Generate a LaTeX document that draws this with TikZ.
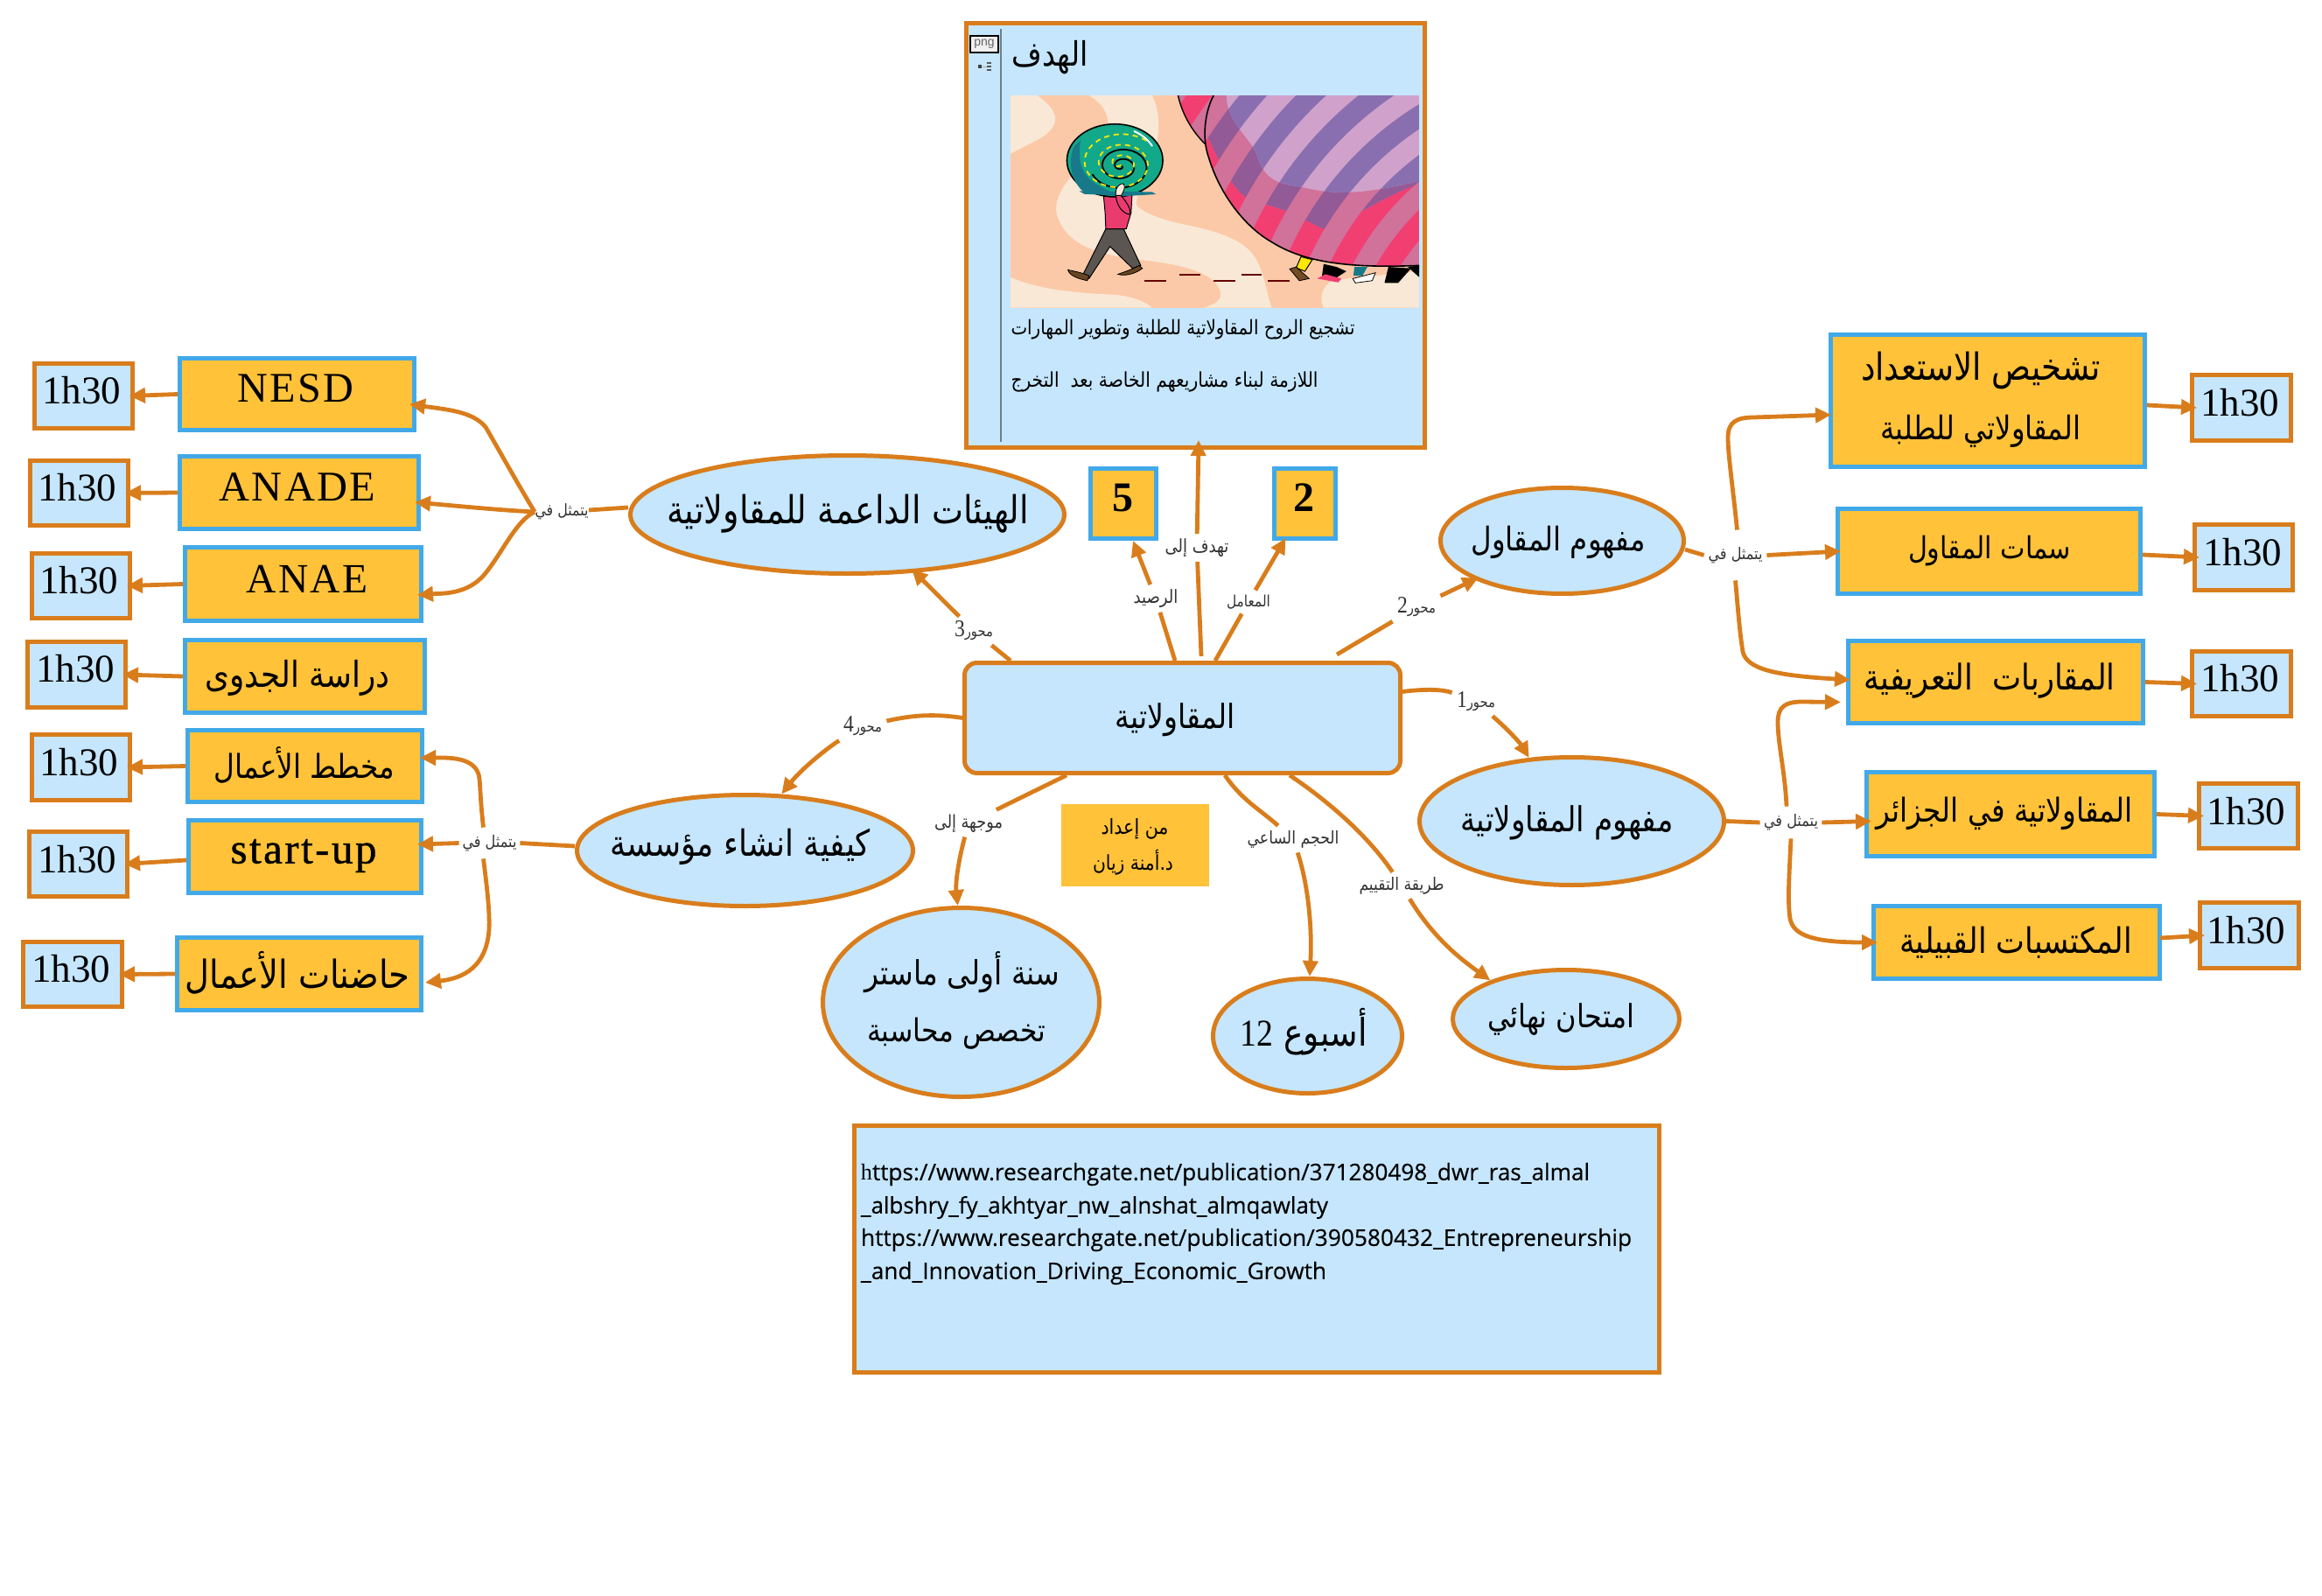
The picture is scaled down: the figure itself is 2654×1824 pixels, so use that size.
\documentclass[tikz,border=0pt]{standalone}
\usepackage{fontspec}
\usepackage{graphicx}
\usetikzlibrary{shapes.geometric,arrows.meta,calc}
\TeXXeTstate=1
\setmainfont{Liberation Serif}
\newfontfamily\arabicfont[Script=Arabic]{DejaVu Sans}
\newfontfamily\lat{Liberation Serif}
\newfontfamily\latwide[LetterSpace=5]{Liberation Serif}
\newfontfamily\latheavy[LetterSpace=5,FakeBold=0.8]{Liberation Serif}
\newfontfamily\refsans[FakeBold=0.3]{Open Sans}
\newfontfamily\badgesans{Liberation Sans}
\definecolor{linkorange}{HTML}{D97D1C}
\definecolor{paleblue}{HTML}{C5E6FC}
\definecolor{boxyellow}{HTML}{FFC238}
\definecolor{boxblue}{HTML}{42A9E8}
\definecolor{tagtext}{HTML}{333333}
\definecolor{peach}{HTML}{FCC9A8}
\definecolor{cream}{HTML}{F9E8D6}
\definecolor{shell}{HTML}{12A88A}
\definecolor{shelldark}{HTML}{17798A}
\definecolor{shirt}{HTML}{E93B6E}
\definecolor{trousers}{HTML}{5B5652}
\definecolor{purpA}{HTML}{8A6FB0}
\definecolor{purpB}{HTML}{D0A2CB}
\definecolor{mauA}{HTML}{925A96}
\definecolor{mauB}{HTML}{D0729A}
\definecolor{hotpink}{HTML}{F23F72}
\newlength\arw
\newsavebox\tbox
% Arabic line scaled to a width given in picture units, slightly heightened
\newcommand{\ar}[2]{\setlength\arw{#1pt}\arw=0.5\arw\scalebox{1}[1.15]{\resizebox{\arw}{!}{\arabicfont #2}}}
% Latin run scaled to a width given in picture units
\newcommand{\la}[2]{\setlength\arw{#1pt}\arw=0.5\arw\resizebox{\arw}{!}{#2}}
% Digit inside a caption
\newcommand{\dgt}[1]{{\lat\Large #1}}
% Text centred on an absolute picture position, inside a box drawn by \spanbox
\newcommand{\txt}[3]{\pgfmathsetlengthmacro\dxx{(#1-\bx)*1pt}\pgfmathsetlengthmacro\dyy{(\by-#2)*0.5pt}%
  \sbox\tbox{#3}\makebox[0pt]{\kern\dxx\raisebox{\dimexpr\dyy-0.5\ht\tbox+0.5\dp\tbox\relax}[0pt][0pt]{\usebox\tbox}}}
% Node spanning given outer extents: name, style, x1, y1, x2, y2, content
\newcommand{\spanbox}[7]{\pgfmathsetmacro\bx{(#3+#5)/2}\pgfmathsetmacro\by{(#4+#6)/2}%
  \pgfmathsetmacro\bw{(#5-#3-5)*0.5}\pgfmathsetmacro\bh{(#6-#4-5)*0.5}%
  \node[#2,minimum width=\bw pt,minimum height=\bh pt] (#1) at (\bx,\by) {#7};}
% Concentric bands of the balloon
\newcommand{\stripes}[2]{\fill[#1] (700,250) rectangle (1500,950);
  \foreach \r in {224,272,320,368,416,464,512,560,608}{\draw[#2,line width=12pt] (2000,1300) circle [radius=\r*0.5pt];}}
\tikzset{
  solid base/.style={inner sep=0pt,line width=2.5pt,text height=0pt,text depth=0pt},
  topicbox/.style={solid base,rectangle,draw=boxblue,fill=boxyellow},
  hourbox/.style={solid base,rectangle,draw=linkorange,fill=paleblue},
  infobox/.style={solid base,rectangle,draw=linkorange,fill=paleblue},
  oval/.style={solid base,ellipse,draw=linkorange,fill=paleblue},
  creditbox/.style={solid base,rectangle,draw=boxyellow,fill=boxyellow},
  edgetag/.style={fill=white,inner sep=2.5pt,text=tagtext,font=\small},
  link/.style={draw=linkorange,line width=2.4pt},
  flow/.style={link,-{Triangle[length=9pt,width=8.5pt]}}
}
\begin{document}
\begin{tikzpicture}[x=0.5pt,y=-0.5pt]
\useasboundingbox (0,0) rectangle (2654,1824);

% Objective panel
\spanbox{goal}{infobox}{1102}{24}{1631}{514}{%
  \txt{1200}{66}{\ar{87}{\beginR الهدف\endR}}%
  \txt{1352}{377}{\ar{393}{\beginR تشجيع الروح المقاولاتية للطلبة وتطوير المهارات\endR}}%
  \txt{1331}{437}{\ar{351}{\beginR اللازمة لبناء مشاريعهم الخاصة بعد\ \ التخرج\endR}}}
\draw[draw=black!45!paleblue,line width=1pt] ([shift={(42,9)}]goal.north west) -- ([shift={(42,-9)}]goal.south west);
\node[draw=black,line width=1.2pt,fill=white!94!black,inner sep=0pt,minimum width=16pt,minimum height=9.5pt,text=black!60,font=\badgesans\fontsize{7pt}{8pt}\selectfont] (badge) at (1125,50.5) {png};
\foreach \yy in {71,75,79}{\fill[black!65] (1128,\yy) rectangle (1133,\yy+2.5);}
\fill[black!75] (1118,74) rectangle (1122,78);
\draw[black!30,line width=.4pt] (1122,76) -- (1128,76);

% Illustration inside the panel
\begin{scope}[shift={(1080,10)},x=0.185pt,y=-0.1667pt]
  \clip (203,297) rectangle (1465,1025);
  \fill[peach] (203,297) rectangle (1465,1025);
  \fill[cream] (203,297) -- (285,297) .. controls (340,340) and (370,390) .. (300,440) .. controls (270,460) and (230,480) .. (203,497) -- cycle;
  \fill[cream] (445,297) .. controls (510,340) and (520,400) .. (480,470) .. controls (400,560) and (320,640) .. (350,720) .. controls (380,800) and (450,840) .. (600,860) .. controls (720,875) and (840,900) .. (852,975) .. controls (855,1000) and (830,1015) .. (800,1025) -- (1010,1025) .. controls (990,970) and (990,900) .. (950,840) .. controls (900,770) and (780,750) .. (700,730) .. controls (640,710) and (600,690) .. (590,670) .. controls (600,600) and (660,500) .. (660,400) .. controls (660,350) and (650,320) .. (640,297) -- cycle;
  \fill[cream] (203,920) .. controls (280,960) and (400,975) .. (520,980) .. controls (580,985) and (620,1005) .. (640,1025) -- (203,1025) -- cycle;
  \fill[cream] (1170,1025) .. controls (1155,990) and (1165,950) .. (1200,930) -- (1465,900) -- (1465,1025) -- cycle;
  % Back balloon
  \begin{scope}
    \clip (720,297) .. controls (735,370) and (770,430) .. (812,472) -- (900,297) -- cycle;
    \stripes{mauB}{hotpink}
  \end{scope}
  \draw[black,line width=.7pt] (720,297) .. controls (735,370) and (770,430) .. (812,472);
  % Front balloon with concentric bands in three tints
  \begin{scope}
    \clip (830,297) .. controls (800,360) and (795,450) .. (815,510) .. controls (850,640) and (930,750) .. (1010,800) .. controls (1110,870) and (1250,890) .. (1465,880) -- (1465,297) -- cycle;
    \stripes{mauB}{hotpink}
    \begin{scope}
      \clip (800,297) -- (805,420) .. controls (860,560) and (900,640) .. (960,665) .. controls (1050,680) and (1100,720) .. (1170,755) .. controls (1260,720) and (1360,640) .. (1465,600) -- (1465,297) -- cycle;
      \stripes{mauB}{mauA}
    \end{scope}
    \begin{scope}
      \clip (870,297) .. controls (870,380) and (930,430) .. (960,490) .. controls (980,560) and (1000,600) .. (1100,610) .. controls (1230,650) and (1350,620) .. (1465,590) -- (1465,297) -- cycle;
      \stripes{purpB}{purpA}
    \end{scope}
  \end{scope}
  \draw[black,line width=.8pt] (830,297) .. controls (800,360) and (795,450) .. (815,510) .. controls (850,640) and (930,750) .. (1010,800) .. controls (1110,870) and (1250,890) .. (1465,880);
  % Feet under the balloon
  \filldraw[fill=yellow!90!orange,draw=black,line width=.5pt] (1100,850) -- (1135,860) -- (1112,900) -- (1085,888) -- cycle;
  \filldraw[fill=brown!60!black,draw=black,line width=.4pt] (1065,892) -- (1085,885) -- (1125,925) -- (1095,932) -- cycle;
  \fill[black] (1170,875) -- (1210,885) -- (1240,900) -- (1205,925) -- (1165,915) -- cycle;
  \fill[hotpink] (1150,925) -- (1175,910) -- (1225,925) -- (1215,938) -- cycle;
  \fill[shelldark] (1265,885) -- (1305,885) -- (1290,915) -- (1262,915) -- cycle;
  \filldraw[fill=white,draw=black,line width=.4pt] (1260,925) -- (1330,905) -- (1320,932) -- (1268,940) -- cycle;
  \fill[black] (1370,885) -- (1440,890) -- (1400,940) -- (1358,940) -- cycle;
  \fill[black] (1430,885) -- (1465,880) -- (1465,920) -- cycle;
  % Walker: dashes, trousers, shoes, shirt
  \foreach \xa/\xb/\yy in {615/685/933,725/790/912,830/897/933,915/978/912,998/1065/933}{\draw[red!40!black,line width=1.2pt] (\xa,\yy) -- (\xb,\yy);}
  \filldraw[fill=trousers,draw=black,line width=.5pt] (497,755) -- (552,755) -- (605,880) -- (580,890) -- (510,815) -- (445,925) -- (425,915) -- cycle;
  \filldraw[fill=brown!55!black,draw=black,line width=.4pt] (380,895) .. controls (400,900) and (425,905) .. (445,915) -- (440,932) .. controls (410,925) and (385,915) .. (380,895) -- cycle;
  \filldraw[fill=brown!55!black,draw=black,line width=.4pt] (535,910) .. controls (560,900) and (585,890) .. (600,880) -- (610,890) .. controls (590,908) and (555,918) .. (535,910) -- cycle;
  \filldraw[fill=shirt,draw=black,line width=.5pt] (490,640) -- (578,640) -- (575,700) -- (560,755) -- (497,755) -- (495,700) -- cycle;
  % Shell with its spiral and painted dashes
  \filldraw[fill=shell,draw=black,line width=.8pt] (525,520) ellipse [x radius=27.4pt,y radius=20.8pt];
  \fill[shelldark] (400,470) .. controls (375,530) and (395,610) .. (440,635) -- (520,630) .. controls (450,600) and (400,560) .. (420,450) -- cycle;
  \draw[black,line width=.9pt] plot[domain=0:880,samples=90,smooth] ({545+(\x/880)*95*cos(\x)},{540+(\x/880)*80*sin(\x)});
  \draw[yellow!90!orange,line width=.9pt,dash pattern=on 3pt off 2.5pt] plot[domain=60:1040,samples=90,smooth] ({540+(\x/1040)*125*cos(\x)},{530+(\x/1040)*105*sin(\x)});
  \draw[white,line width=1pt,line cap=round] (585,420) .. controls (605,430) and (625,445) .. (640,470);
  \fill[shelldark] (415,625) -- (640,628) -- (652,636) -- (560,642) -- (430,635) -- cycle;
  \filldraw[fill=shirt,draw=black,line width=.5pt] (530,625) .. controls (555,650) and (580,690) .. (570,705) .. controls (545,700) and (530,670) .. (528,640) -- cycle;
  \filldraw[fill=cream,draw=black,line width=.4pt] (528,640) .. controls (525,615) and (540,595) .. (552,600) .. controls (560,610) and (550,630) .. (545,640) -- cycle;
\end{scope}

% Central topic and first-level ovals
\spanbox{central}{infobox,rounded corners=7pt}{1100}{755}{1603}{886}{\txt{1343}{823}{\ar{137}{\beginR المقاولاتية\endR}}}
\spanbox{hayat}{oval}{718}{518}{1219}{658}{\txt{969}{587}{\ar{414}{\beginR الهيئات الداعمة للمقاولاتية\endR}}}
\spanbox{entrep}{oval}{1644}{555}{1927}{681}{\txt{1781}{620}{\ar{199}{\beginR مفهوم المقاول\endR}}}
\spanbox{concept}{oval}{1620}{863}{1973}{1014}{\txt{1791}{940}{\ar{243}{\beginR مفهوم المقاولاتية\endR}}}
\spanbox{howto}{oval}{657}{906}{1046}{1038}{\txt{846}{968}{\ar{298}{\beginR كيفية انشاء مؤسسة\endR}}}
\spanbox{year}{oval}{938}{1035}{1259}{1256}{\txt{1100}{1111}{\ar{223}{\beginR سنة أولى ماستر\endR}}\txt{1093}{1181}{\ar{204}{\beginR تخصص محاسبة\endR}}}
\spanbox{week}{oval}{1384}{1116}{1605}{1252}{\txt{1490}{1179}{\ar{145}{\beginR أسبوع \beginL{\lat 12}\endL\endR}}}
\spanbox{exam}{oval}{1658}{1106}{1922}{1223}{\txt{1784}{1165}{\ar{168}{\beginR امتحان نهائي\endR}}}
\spanbox{credit}{creditbox}{1213}{919}{1382}{1013}{\txt{1297}{947}{\ar{77}{\beginR من إعداد\endR}}\txt{1295}{986}{\ar{92}{\beginR د.أمنة زيان\endR}}}
\spanbox{coefA}{topicbox}{1244}{533}{1324}{618}{\txt{1283}{569}{\la{24}{\bfseries 5}}}
\spanbox{coefB}{topicbox}{1454}{533}{1529}{618}{\txt{1490}{569}{\la{24}{\bfseries 2}}}

% Left topics and their durations
\spanbox{nesd}{topicbox}{203}{407}{476}{494}{\txt{338}{444}{\la{133}{\latwide NESD}}}
\spanbox{anade}{topicbox}{203}{519}{481}{607}{\txt{340}{557}{\la{179}{\latwide ANADE}}}
\spanbox{anae}{topicbox}{209}{623}{484}{712}{\txt{351}{662}{\la{139}{\latwide ANAE}}}
\spanbox{dirasa}{topicbox}{209}{729}{488}{817}{\txt{340}{775}{\ar{211}{\beginR دراسة الجدوى\endR}}}
\spanbox{plan}{topicbox}{212}{832}{485}{919}{\txt{348}{874}{\ar{207}{\beginR مخطط الأعمال\endR}}}
\spanbox{startup}{topicbox}{213}{935}{484}{1023}{\txt{347}{978}{\la{167}{\latheavy start-up}}}
\spanbox{incub}{topicbox}{200}{1069}{484}{1157}{\txt{340}{1112}{\ar{257}{\beginR حاضنات الأعمال\endR}}}
\spanbox{hrA}{hourbox}{37}{413}{154}{492}{\txt{93}{446}{\la{90}{1h30}}}
\spanbox{hrB}{hourbox}{32}{524}{149}{603}{\txt{88}{557}{\la{90}{1h30}}}
\spanbox{hrC}{hourbox}{34}{630}{151}{709}{\txt{90}{663}{\la{90}{1h30}}}
\spanbox{hrD}{hourbox}{29}{731}{146}{811}{\txt{86}{764}{\la{90}{1h30}}}
\spanbox{hrE}{hourbox}{34}{837}{151}{917}{\txt{90}{871}{\la{90}{1h30}}}
\spanbox{hrF}{hourbox}{31}{948}{148}{1027}{\txt{88}{982}{\la{90}{1h30}}}
\spanbox{hrG}{hourbox}{24}{1074}{142}{1153}{\txt{81}{1107}{\la{90}{1h30}}}

% Right topics and their durations
\spanbox{diag}{topicbox}{2090}{380}{2454}{536}{\txt{2264}{423}{\ar{274}{\beginR تشخيص الاستعداد\endR}}\txt{2264}{493}{\ar{229}{\beginR المقاولاتي للطلبة\endR}}}
\spanbox{simat}{topicbox}{2098}{579}{2449}{681}{\txt{2274}{630}{\ar{186}{\beginR سمات المقاول\endR}}}
\spanbox{muqar}{topicbox}{2110}{730}{2452}{829}{\txt{2274}{778}{\ar{287}{\beginR المقاربات\ \ التعريفية\endR}}}
\spanbox{algeria}{topicbox}{2131}{880}{2465}{981}{\txt{2291}{930}{\ar{293}{\beginR المقاولاتية في الجزائر\endR}}}
\spanbox{skills}{topicbox}{2139}{1033}{2471}{1121}{\txt{2304}{1077}{\ar{266}{\beginR المكتسبات القبيلية\endR}}}
\spanbox{hrH}{hourbox}{2503}{426}{2621}{506}{\txt{2560}{460}{\la{90}{1h30}}}
\spanbox{hrI}{hourbox}{2506}{597}{2623}{677}{\txt{2563}{631}{\la{90}{1h30}}}
\spanbox{hrJ}{hourbox}{2503}{742}{2621}{821}{\txt{2560}{775}{\la{90}{1h30}}}
\spanbox{hrK}{hourbox}{2511}{893}{2629}{972}{\txt{2567}{927}{\la{90}{1h30}}}
\spanbox{hrL}{hourbox}{2512}{1029}{2630}{1109}{\txt{2567}{1063}{\la{90}{1h30}}}

% References
\spanbox{refs}{infobox}{974}{1284}{1899}{1571}{%
  \txt{1400.5}{1342}{\la{833}{\refsans{\lat h}ttps://www.researchgate.net/publication/371280498\_dwr\_ras\_almal}}%
  \txt{1251}{1380}{\la{534}{\refsans\_albshry\_fy\_akhtyar\_nw\_alnshat\_almqawlaty}}%
  \txt{1424.5}{1417}{\la{881}{\refsans https://www.researchgate.net/publication/390580432\_Entrepreneurship}}%
  \txt{1250}{1455}{\la{532}{\refsans\_and\_Innovation\_Driving\_Economic\_Growth}}}

% Connector captions
\node[edgetag] (tagAxisC) at (1113,721) {\ar{44}{\beginR محور\beginL\dgt{3}\endL\endR}};
\node[edgetag] (tagStock) at (1321,684) {\ar{51}{\beginR الرصيد\endR}};
\node[edgetag] (tagGoal) at (1368,626) {\ar{73}{\beginR تهدف إلى\endR}};
\node[edgetag] (tagCoef) at (1427,688) {\ar{50}{\beginR المعامل\endR}};
\node[edgetag] (tagAxisB) at (1619,694) {\ar{44}{\beginR محور\beginL\dgt{2}\endL\endR}};
\node[edgetag] (tagAxisA) at (1687,802) {\ar{44}{\beginR محور\beginL\dgt{1}\endL\endR}};
\node[edgetag] (tagAxisD) at (986,830) {\ar{44}{\beginR محور\beginL\dgt{4}\endL\endR}};
\node[edgetag] (tagAudience) at (1107,941) {\ar{78}{\beginR موجهة إلى\endR}};
\node[edgetag] (tagHours) at (1478,959) {\ar{105}{\beginR الحجم الساعي\endR}};
\node[edgetag] (tagEval) at (1602,1012) {\ar{97}{\beginR طريقة التقييم\endR}};
\node[edgetag,inner sep=0pt] (hubHayat) at (642,585) {\ar{61}{\beginR يتمثل في\endR}};
\node[edgetag,inner sep=0pt,minimum width=35.5pt,minimum height=28.5pt] (hubEntrep) at (1983.5,634.5) {\ar{62}{\beginR يتمثل في\endR}};
\node[edgetag,inner sep=0pt,minimum width=35pt,minimum height=18pt] (hubConcept) at (2047,940) {\ar{62}{\beginR يتمثل في\endR}};
\node[edgetag,inner sep=0pt,minimum width=34.5pt,minimum height=17.5pt] (hubHowto) at (559.5,963.5) {\ar{62}{\beginR يتمثل في\endR}};

% Connectors leaving the central topic
\draw[link] ([shift={(55,0)}]central.north west) -- (tagAxisC);
\draw[flow] (tagAxisC) -- ([shift={(-3,-4)}]hayat.-41);
\draw[link] ([shift={(-8.5,0)}]central.north) -- (tagStock);
\draw[flow] (tagStock) -- ([xshift=5.5pt]coefA.south);
\draw[link] ([shift={(21.5,-5)}]central.north) -- (tagGoal);
\draw[flow] (tagGoal) -- ([shift={(3.5,-11)}]goal.south);
\draw[link] ([shift={(37.5,0)}]central.north) -- (tagCoef);
\draw[flow] (tagCoef) -- ([shift={(-22,-3)}]coefB.south);
\draw[link] ([shift={(-75,-7)}]central.north east) -- (tagAxisB);
\draw[flow] (tagAxisB) -- ([shift={(4,-2)}]entrep.204);
\draw[link] ([shift={(0,-30)}]central.east) .. controls (1630,787) and (1650,788) .. (tagAxisA);
\draw[flow] (tagAxisA) .. controls (1725,835) and (1738,850) .. (concept.124);
\draw[link] (central.west) .. controls (1065,815) and (1040,818) .. (tagAxisD);
\draw[flow] (tagAxisD) .. controls (945,855) and (915,880) .. (howto.57);
\draw[link] ([shift={(119,0)}]central.south west) -- (tagAudience);
\draw[flow] (tagAudience) .. controls (1095,985) and (1092,1010) .. (year.92);
\draw[link] ([shift={(300,0)}]central.south west) .. controls (1420,915) and (1440,925) .. (tagHours);
\draw[flow] (tagHours) .. controls (1495,1010) and (1500,1060) .. (week.88);
\draw[link] ([shift={(374,0)}]central.south west) .. controls (1510,910) and (1560,950) .. (tagEval);
\draw[flow] (tagEval) .. controls (1640,1075) and (1675,1100) .. (exam.153);

% Support bodies branch
\draw[link] ([shift={(0,-8)}]hayat.west) -- (hubHayat);
\draw[flow] (hubHayat.west) .. controls (590,550) and (565,505) .. (555,488) .. controls (540,470) and (510,468) .. ([shift={(-8,11.5)}]nesd.east);
\draw[flow] (hubHayat.west) .. controls (570,583) and (520,578) .. ([shift={(-7,11)}]anade.east);
\draw[flow] (hubHayat.west) .. controls (590,595) and (575,630) .. (555,655) .. controls (535,680) and (505,678) .. ([shift={(-7,12.5)}]anae.east);

% Founding a company branch
\draw[link] ([shift={(0,-5)}]howto.west) -- (hubHowto.east);
\draw[flow] (hubHowto.west) -- ([shift={(-7,-14)}]startup.east);
\draw[flow] ([xshift=-3.5pt]hubHowto.north) .. controls (549,915) and (549,900) .. (548,890) .. controls (546,870) and (525,866) .. (505,866) -- ([shift={(-5,-9.5)}]plan.east);
\draw[flow] ([xshift=-3.5pt]hubHowto.south) .. controls (556,1010) and (560,1040) .. (559,1062) .. controls (556,1105) and (530,1118) .. ([shift={(2,10)}]incub.east);

% Entrepreneur branch
\draw[link] ([shift={(-1,10)}]entrep.east) -- (hubEntrep.west);
\draw[flow] ([xshift=1pt]hubEntrep.north) .. controls (1981,560) and (1975,520) .. (1975,500) .. controls (1975,482) and (1985,477) .. (2005,477) -- ([shift={(3,16)}]diag.west);
\draw[flow] (hubEntrep.east) -- ([xshift=3pt]simat.west);
\draw[flow] (hubEntrep.south) .. controls (1986,690) and (1988,720) .. (1992,745) .. controls (1997,765) and (2030,772) .. ([shift={(5,-2.5)}]muqar.west);

% Entrepreneurship concept branch
\draw[link] (concept.east) -- (hubConcept.west);
\draw[flow] (hubConcept.east) -- ([shift={(8,8)}]algeria.west);
\draw[flow] ([xshift=-2.5pt]hubConcept.north) .. controls (2040,880) and (2032,850) .. (2032,825) .. controls (2032,808) and (2040,802) .. (2060,802) -- ([shift={(-6,23)}]muqar.west);
\draw[flow] (hubConcept.south) .. controls (2045,1000) and (2043,1030) .. (2046,1050) .. controls (2050,1070) and (2075,1077) .. ([xshift=3.5pt]skills.west);

% Topics to durations
\draw[flow] (nesd.west) -- ([xshift=-3pt]hrA.east);
\draw[flow] (anade.west) -- ([xshift=-3pt]hrB.east);
\draw[flow] (anae.west) -- ([xshift=-3pt]hrC.east);
\draw[flow] (dirasa.west) -- ([xshift=-3pt]hrD.east);
\draw[flow] (plan.west) -- ([xshift=-3pt]hrE.east);
\draw[flow] ([yshift=-2pt]startup.west) -- ([xshift=-3pt]hrF.east);
\draw[flow] (incub.west) -- ([xshift=-3pt]hrG.east);
\draw[flow] ([shift={(0,5)}]diag.east) -- ([xshift=4pt]hrH.west);
\draw[flow] ([shift={(0,4)}]simat.east) -- ([xshift=4pt]hrI.west);
\draw[flow] (muqar.east) -- ([xshift=4pt]hrJ.west);
\draw[flow] (algeria.east) -- ([xshift=4pt]hrK.west);
\draw[flow] ([shift={(-2,-5)}]skills.east) -- ([xshift=4pt]hrL.west);
\end{tikzpicture}
\end{document}
